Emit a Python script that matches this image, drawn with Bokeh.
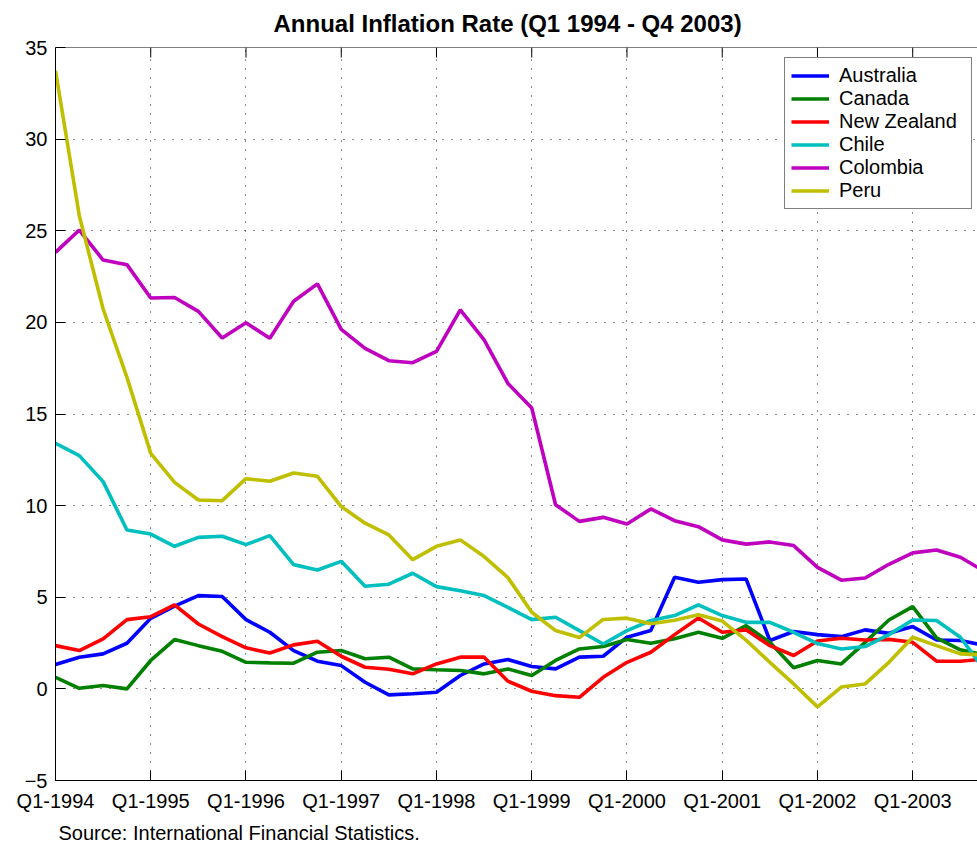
from bokeh.plotting import figure
from bokeh.models import (Range1d, FixedTicker, Legend, LegendItem, Title, Span)
from bokeh.embed import file_html
from bokeh.resources import INLINE
import math

quarters = list(range(40))
tick_positions = [0, 4, 8, 12, 16, 20, 24, 28, 32, 36]
tick_labels = ["Q1-1994", "Q1-1995", "Q1-1996", "Q1-1997", "Q1-1998",
               "Q1-1999", "Q1-2000", "Q1-2001", "Q1-2002", "Q1-2003"]
y_ticks = [-5, 0, 5, 10, 15, 20, 25, 30, 35]

australia = [1.33, 1.73, 1.91, 2.49, 3.85, 4.51, 5.09, 5.04, 3.78, 3.09,
             2.09, 1.51, 1.27, 0.36, -0.33, -0.27, -0.18, 0.73, 1.36, 1.6,
             1.22, 1.09, 1.73, 1.78, 2.82, 3.18, 6.09, 5.82, 5.96, 6.0,
             2.64, 3.13, 2.96, 2.85, 3.22, 3.03, 3.4, 2.67, 2.64, 2.38]
canada = [0.63, 0.03, 0.18, 0.0, 1.55, 2.69, 2.36, 2.05, 1.45, 1.42,
          1.4, 2.0, 2.09, 1.64, 1.73, 1.09, 1.04, 1.0, 0.82, 1.09,
          0.73, 1.55, 2.18, 2.31, 2.69, 2.49, 2.73, 3.09, 2.76, 3.45,
          2.54, 1.15, 1.55, 1.36, 2.54, 3.76, 4.49, 2.78, 2.13, 1.85]
new_zealand = [2.36, 2.09, 2.73, 3.78, 3.94, 4.58, 3.54, 2.85, 2.24, 1.96,
               2.4, 2.6, 1.78, 1.18, 1.07, 0.82, 1.36, 1.73, 1.73, 0.42,
               -0.13, -0.37, -0.46, 0.63, 1.45, 2.0, 2.96, 3.87, 3.09, 3.22,
               2.36, 1.82, 2.61, 2.76, 2.67, 2.7, 2.54, 1.51, 1.51, 1.62]
chile = [13.4, 12.73, 11.31, 8.67, 8.45, 7.78, 8.27, 8.33, 7.87, 8.36,
         6.78, 6.49, 6.96, 5.6, 5.71, 6.31, 5.58, 5.36, 5.09, 4.45,
         3.78, 3.91, 3.18, 2.45, 3.18, 3.73, 4.0, 4.58, 4.0, 3.63,
         3.63, 3.09, 2.47, 2.18, 2.31, 2.96, 3.76, 3.73, 2.82, 1.05]
colombia = [23.82, 25.04, 23.4, 23.15, 21.33, 21.36, 20.6, 19.15, 19.98, 19.13,
            21.15, 22.1, 19.62, 18.58, 17.91, 17.8, 18.42, 20.68, 19.04, 16.67,
            15.33, 10.05, 9.14, 9.36, 9.0, 9.82, 9.18, 8.85, 8.13, 7.9,
            8.02, 7.82, 6.63, 5.93, 6.05, 6.8, 7.42, 7.58, 7.18, 6.42]
peru = [33.73, 25.82, 20.73, 17.0, 12.85, 11.27, 10.31, 10.27, 11.47, 11.33,
        11.78, 11.6, 9.95, 9.04, 8.4, 7.05, 7.78, 8.13, 7.22, 6.07,
        4.18, 3.18, 2.8, 3.79, 3.86, 3.55, 3.75, 4.04, 3.7, 2.66,
        1.45, 0.27, -0.98, 0.1, 0.27, 1.45, 2.82, 2.36, 1.91, 1.85]

series_names = ["Australia", "Canada", "New Zealand", "Chile", "Colombia", "Peru"]
series_values = [australia, canada, new_zealand, chile, colombia, peru]
series_colors = ["#0000FF", "#008000", "#FF0000", "#00BFBF", "#BF00BF", "#BFBF00"]

FONT = "Liberation Sans"
Y_MIN, Y_MAX = -5, 35

p = figure(width=977, height=848, output_backend="svg", toolbar_location=None,
           x_range=Range1d(0, 38.72), y_range=Range1d(Y_MIN, Y_MAX),
           min_border_left=55, min_border_right=0, min_border_top=47,
           min_border_bottom=68)
p.outline_line_color = None
p.background_fill_color = "white"
p.border_fill_color = "white"

p.title = Title(text="Annual Inflation Rate (Q1 1994 - Q4 2003)", align="left",
                vertical_align="top",
                text_font=FONT, text_font_size="24px", text_font_style="bold",
                text_color="black", standoff=17, offset=218)

# axes
xa = p.xaxis[0]
xa.ticker = FixedTicker(ticks=tick_positions)
xa.major_label_overrides = {t: l for t, l in zip(tick_positions, tick_labels)}
ya = p.yaxis[0]
ya.ticker = FixedTicker(ticks=y_ticks)
for ax in (xa, ya):
    ax.major_tick_in = 10
    ax.major_tick_out = 0
    ax.minor_tick_line_color = None
    ax.axis_line_color = "black"
    ax.major_tick_line_color = "black"
    ax.major_label_text_font = FONT
    ax.major_label_text_font_size = "20px"
    ax.major_label_text_color = "black"
xa.major_label_standoff = 9
ya.major_label_standoff = 8

# top frame line and inward ticks
p.add_layout(Span(location=Y_MAX, dimension="width", line_color="black",
                  line_width=1))
p.ray(x=tick_positions, y=[Y_MAX] * len(tick_positions), length=10,
      length_units="screen", angle=-math.pi / 2, line_color="black",
      line_width=1)

# grid
p.xgrid.ticker = FixedTicker(ticks=tick_positions)
p.ygrid.ticker = FixedTicker(ticks=y_ticks)
for g in (p.xgrid[0], p.ygrid[0]):
    g.grid_line_color = "black"
    g.grid_line_dash = "1 8"
    g.grid_line_width = 1
    g.grid_line_alpha = 0.9

items = []
for name, vals, col in zip(series_names, series_values, series_colors):
    r = p.line(quarters, vals, line_color=col, line_width=3.6)
    items.append(LegendItem(label=name, renderers=[r]))

legend = Legend(items=items, location=(729, 571), padding=6, spacing=0,
                label_height=23, glyph_height=23, glyph_width=38,
                label_standoff=10, label_width=126,
                label_text_font=FONT, label_text_font_size="20px",
                label_text_color="black",
                border_line_color="black", border_line_width=1,
                background_fill_color="white", background_fill_alpha=1)
p.add_layout(legend, "center")

src = Title(text="Source: International Financial Statistics.", align="left",
            text_font=FONT, text_font_size="20px", text_font_style="normal",
            text_color="black", standoff=10, offset=3)
p.add_layout(src, "below")

open("out.html", "w").write(file_html(p, INLINE))
